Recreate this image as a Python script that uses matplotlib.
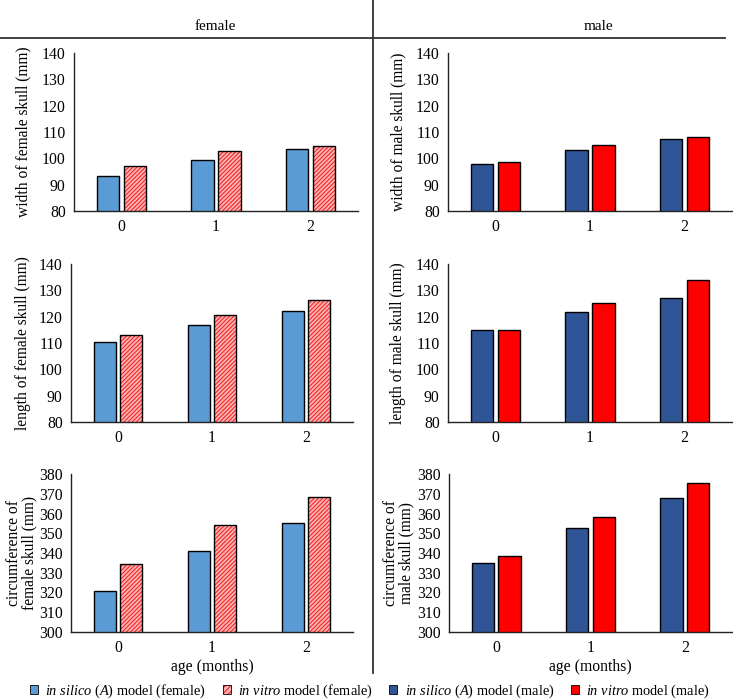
import numpy as np
import matplotlib
matplotlib.use("Agg")
import matplotlib.pyplot as plt
from matplotlib.lines import Line2D
from matplotlib.patches import Patch

plt.rcParams['font.family'] = ['Liberation Serif', 'DejaVu Serif']
plt.rcParams['mathtext.fontset'] = 'custom'
plt.rcParams['mathtext.rm'] = 'Liberation Serif'
plt.rcParams['mathtext.it'] = 'Liberation Serif:italic'
plt.rcParams['hatch.linewidth'] = 0.8

# dati
ages = [0, 1, 2]
female_width_silico = [93.3, 99.4, 103.6]
female_width_vitro = [96.9, 102.8, 104.8]
male_width_silico = [97.7, 103.0, 107.3]
male_width_vitro = [98.7, 105.0, 108.2]
female_length_silico = [110.4, 117.0, 122.1]
female_length_vitro = [113.0, 120.7, 126.2]
male_length_silico = [115.1, 121.6, 127.0]
male_length_vitro = [114.9, 125.1, 134.1]
female_circ_silico = [321.0, 340.8, 355.1]
female_circ_vitro = [334.2, 354.1, 368.6]
male_circ_silico = [334.9, 352.5, 367.6]
male_circ_vitro = [338.3, 358.1, 375.4]

female_labels = ["width of female skull (mm)", "length of female skull (mm)",
                 "circumference of\nfemale skull (mm)"]
male_labels = ["width of male skull (mm)", "length of male skull (mm)",
               "circumference of\nmale skull (mm)"]
y_limits = [(80, 140), (80, 140), (300, 380)]

W = 733
H = 700
BLUE_F = '#5B9BD5'
BLUE_M = '#2F5597'
RED_M = '#FF0000'
PINK = '#FFB4B4'
HATCH_RED = '#F02828'


def px_axes(fig, x0, x1, y0, y1):
    return fig.add_axes([x0 / W, 1 - y1 / H, (x1 - x0) / W, (y1 - y0) / H])


def draw_panel(ax, silico, vitro, ylim, silico_color, hatched, vitro_color):
    x = np.arange(len(ages))
    w = 0.235
    off = 0.142
    ax.bar(x - off, silico, w, color=silico_color, edgecolor='black', linewidth=1.0, zorder=2)
    if hatched:
        ax.bar(x + off, vitro, w, color=PINK, edgecolor=HATCH_RED, hatch='////////', linewidth=0, zorder=2)
        ax.bar(x + off, vitro, w, fill=False, edgecolor='black', linewidth=1.0, zorder=3)
    else:
        ax.bar(x + off, vitro, w, color=vitro_color, edgecolor='black', linewidth=1.0, zorder=2)
    ax.set_xlim(-0.5, 2.5)
    ax.set_ylim(ylim)
    ax.set_yticks(np.arange(ylim[0], ylim[1] + 1, 10))
    ax.set_xticks(x)
    ax.set_xticklabels([str(a) for a in ages])
    ax.tick_params(axis='both', length=0, labelsize=11.3, colors='black')
    ax.tick_params(axis='y', pad=6)
    ax.tick_params(axis='x', pad=6)
    for s in ['top', 'right']:
        ax.spines[s].set_visible(False)
    for s in ['left', 'bottom']:
        ax.spines[s].set_linewidth(1.0)
        ax.spines[s].set_color('#222222')


def main():
    fig = plt.figure(figsize=(W / 100, H / 100), dpi=100)

    rows = [(53, 211), (264, 422), (474, 632)]
    left_x = [(74, 358), (71, 353), (71, 353)]
    right_x = [(448, 732), (448, 732), (449, 732)]
    female_data = [(female_width_silico, female_width_vitro),
                   (female_length_silico, female_length_vitro),
                   (female_circ_silico, female_circ_vitro)]
    male_data = [(male_width_silico, male_width_vitro),
                 (male_length_silico, male_length_vitro),
                 (male_circ_silico, male_circ_vitro)]
    label_x_left = [23, 23, 22]
    label_x_right = [398, 398, 399]

    for i in range(3):
        y0, y1 = rows[i]
        ax = px_axes(fig, left_x[i][0], left_x[i][1], y0, y1)
        draw_panel(ax, female_data[i][0], female_data[i][1], y_limits[i], BLUE_F, True, None)
        fig.text(label_x_left[i] / W, 1 - (y0 + y1) / 2 / H, female_labels[i], rotation=90,
                 ha='center', va='center', fontsize=11.2, linespacing=0.95)
        ax2 = px_axes(fig, right_x[i][0], right_x[i][1], y0, y1)
        draw_panel(ax2, male_data[i][0], male_data[i][1], y_limits[i], BLUE_M, False, RED_M)
        fig.text(label_x_right[i] / W, 1 - (y0 + y1) / 2 / H, male_labels[i], rotation=90,
                 ha='center', va='center', fontsize=11.2, linespacing=0.95)
        if i == 2:
            ax.set_xlabel("age (months)", fontsize=11.3, labelpad=2)
            ax2.set_xlabel("age (months)", fontsize=11.3, labelpad=2)

    # intestazioni e linee di separazione
    fig.text(215 / W, 1 - 26 / H, "female", ha='center', va='center', fontsize=11)
    fig.text(598 / W, 1 - 26 / H, "male", ha='center', va='center', fontsize=11)
    fig.add_artist(Line2D([0, 725 / W], [1 - 38 / H, 1 - 38 / H], color='#333333', linewidth=1.3))
    fig.add_artist(Line2D([373 / W, 373 / W], [1, 1 - 673 / H], color='#333333', linewidth=1.3))

    # legenda
    h1 = Patch(facecolor=BLUE_F, edgecolor='black', linewidth=0.6)
    h2a = Patch(facecolor=PINK, edgecolor=HATCH_RED, hatch='//////', linewidth=0)
    h2b = Patch(fill=False, edgecolor='black', linewidth=0.6)
    h3 = Patch(facecolor=BLUE_M, edgecolor='black', linewidth=0.6)
    h4 = Patch(facecolor=RED_M, edgecolor='black', linewidth=0.6)
    labels = [r'$\mathit{in\ silico\ (A)}$ model (female)',
              r'$\mathit{in\ vitro}$ model (female)',
              r'$\mathit{in\ silico\ (A)}$ model (male)',
              r'$\mathit{in\ vitro}$ model (male)']
    fig.legend([h1, (h2a, h2b), h3, h4], labels, loc='center', ncol=4,
               bbox_to_anchor=(370 / W, 1 - 691 / H), frameon=False, fontsize=10.4,
               handlelength=0.55, handleheight=0.55, handletextpad=0.5,
               columnspacing=1.15, borderpad=0)

    fig.savefig("out.png", dpi=100)


if __name__ == '__main__':
    main()
